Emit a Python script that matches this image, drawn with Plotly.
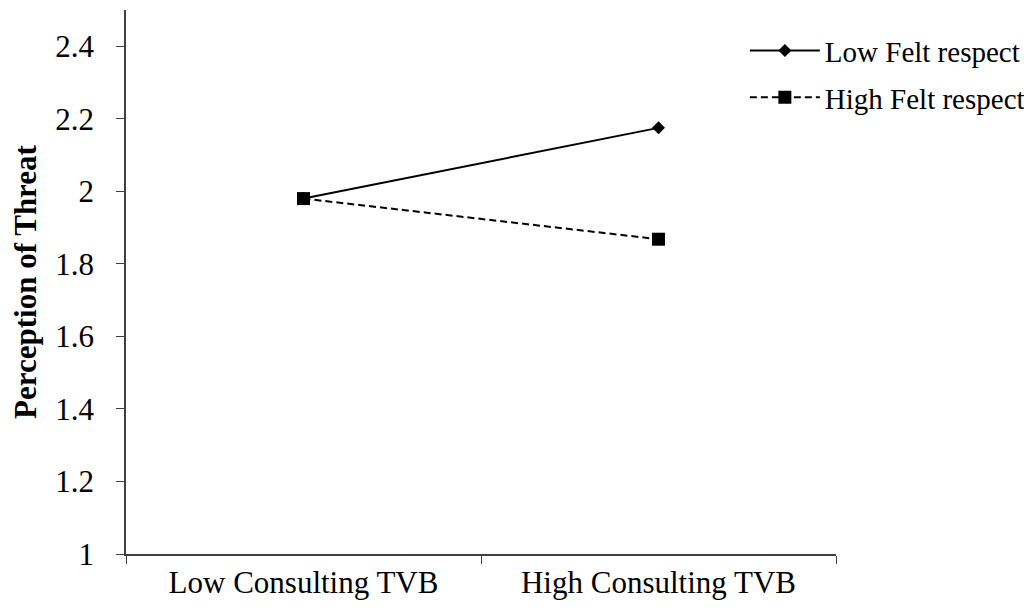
import plotly.graph_objects as go

categories = ["Low Consulting TVB", "High Consulting TVB"]
low_felt_respect = [1.98, 2.175]
high_felt_respect = [1.98, 1.868]
series_names = ["Low Felt respect", "High Felt respect"]
y_tick_values = [1, 1.2, 1.4, 1.6, 1.8, 2, 2.2, 2.4]
y_tick_labels = ["1", "1.2", "1.4", "1.6", "1.8", "2", "2.2", "2.4"]

FONT = "Liberation Serif, Times New Roman, serif"

fig = go.Figure()
fig.add_trace(go.Scatter(
    x=categories, y=low_felt_respect, name=series_names[0],
    legendgroup="a",
    mode="lines+markers",
    line=dict(color="black", width=2),
    marker=dict(symbol="diamond", size=10, color="black"),
))
fig.add_trace(go.Scatter(
    x=categories, y=high_felt_respect, name=series_names[1],
    legendgroup="b",
    mode="lines+markers",
    line=dict(color="black", width=2, dash="7px,4px"),
    marker=dict(symbol="square", size=13, color="black"),
))

fig.update_layout(
    width=1032, height=614,
    margin=dict(l=118, r=204, t=2, b=68, autoexpand=False),
    paper_bgcolor="white", plot_bgcolor="white",
    font=dict(family=FONT, size=31, color="black"),
    showlegend=True,
    legend=dict(
        xref="container", yref="container",
        x=0.714, y=0.972, xanchor="left", yanchor="top",
        font=dict(family=FONT, size=29, color="black"),
        bgcolor="rgba(0,0,0,0)", tracegroupgap=6, itemwidth=70,
    ),
    xaxis=dict(
        type="category", range=[-0.5, 1.5],
        showline=True, linecolor="#404040", linewidth=1.5,
        ticks="outside", tickson="boundaries", ticklen=8, tickcolor="#404040",
        showgrid=False, zeroline=False,
        tickfont=dict(family=FONT, size=31, color="black"),
    ),
    yaxis=dict(
        range=[1, 2.5],
        tickvals=y_tick_values, ticktext=y_tick_labels,
        showline=True, linecolor="#404040", linewidth=1.5,
        ticks="outside", ticklen=8, tickcolor="#404040",
        ticklabelstandoff=16,
        showgrid=False, zeroline=False,
        tickfont=dict(family=FONT, size=31, color="black"),
        title=dict(text="<b>Perception of Threat</b>", standoff=14,
                   font=dict(family=FONT, size=31, color="black")),
    ),
)

fig.write_html("out.html")
